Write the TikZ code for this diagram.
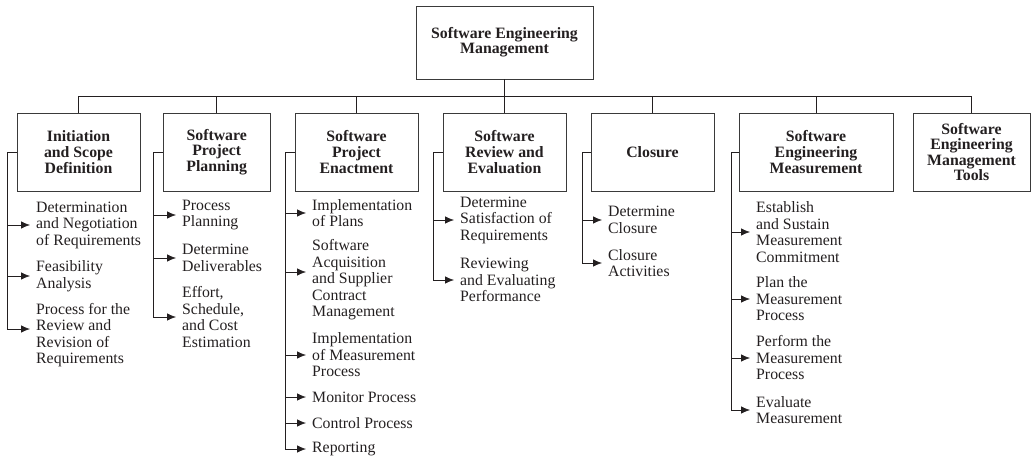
\documentclass[tikz,border=0pt]{standalone}
\usepackage{fontspec}
\setmainfont{Liberation Serif}
\usetikzlibrary{arrows.meta,calc}
\definecolor{ink}{HTML}{231F20}
\definecolor{boxline}{HTML}{3A3A3A}
\tikzset{
  rootbox/.style={draw=boxline, line width=0.9pt, text=ink, align=center, inner sep=0pt,
    font=\fontsize{15.8}{15.2}\selectfont\bfseries},
  catbox/.style={draw=boxline, line width=0.9pt, text=ink, align=center, inner sep=0pt,
    minimum height=78pt, font=\fontsize{15.8}{15.6}\selectfont\bfseries},
  item/.style={anchor=west, align=left, inner sep=0pt, text=ink,
    font=\fontsize{15.8}{16.5}\selectfont},
  conn/.style={draw=ink, line width=0.8pt},
  arr/.style={draw=ink, line width=0.8pt, -{Latex[length=9pt,width=7.5pt]}, shorten >=6pt},
}
\begin{document}
\begin{tikzpicture}[x=1pt,y=-1pt]
\useasboundingbox (0,0) rectangle (1031,460);
% root
\node[rootbox, minimum width=177pt, minimum height=73pt] (root) at (504.5,42.5)
  {Software Engineering\\Management};
% categories
\node[catbox, minimum width=123pt] (b1) at (78.5,152) {Initiation\\and Scope\\Definition};
\node[catbox, minimum width=107pt] (b2) at (216.7,152) {Software\\Project\\Planning};
\node[catbox, minimum width=123pt] (b3) at (356.5,152) {Software\\Project\\Enactment};
\node[catbox, minimum width=123pt] (b4) at (504.5,152) {Software\\Review and\\Evaluation};
\node[catbox, minimum width=123pt] (b5) at (652.5,152) {Closure};
\node[catbox, minimum width=154pt] (b6) at (816,152) {Software\\Engineering\\Measurement};
\node[catbox, minimum width=117pt] (b7) at (971.5,152) {Software\\Engineering\\Management\\Tools};
% bus
\draw[conn] (root.south) -- ++(0,17) coordinate (bus);
\foreach \b in {b1,b2,b3,b4,b5,b6,b7} { \draw[conn] (\b.north) |- (bus); }
% items box 1
\node[item] (i11) at (36,225) {Determination\\and Negotiation\\of Requirements};
\node[item] (i12) at (36,276) {Feasibility\\Analysis};
\node[item] (i13) at (36,335) {Process for the\\Review and\\Revision of\\Requirements};
% box 2
\node[item] (i21) at (182,215) {Process\\Planning};
\node[item] (i22) at (182,258) {Determine\\Deliverables};
\node[item] (i23) at (182,317) {Effort,\\Schedule,\\and Cost\\Estimation};
% box 3
\node[item] (i31) at (312,213) {Implementation\\of Plans};
\node[item] (i32) at (312,280) {Software\\Acquisition\\and Supplier\\Contract\\Management};
\node[item] (i33) at (312,355) {Implementation\\of Measurement\\Process};
\node[item] (i34) at (312,397) {Monitor Process};
\node[item] (i35) at (312,423) {Control Process};
\node[item] (i36) at (312,449) {Reporting};
% box 4
\node[item] (i41) at (460,220) {Determine\\Satisfaction of\\Requirements};
\node[item] (i42) at (460,280) {Reviewing\\and Evaluating\\Performance};
% box 5
\node[item] (i51) at (608,220) {Determine\\Closure};
\node[item] (i52) at (608,263) {Closure\\Activities};
% box 6
\node[item] (i61) at (756,232) {Establish\\and Sustain\\Measurement\\Commitment};
\node[item] (i62) at (756,299) {Plan the\\Measurement\\Process};
\node[item] (i63) at (756,358) {Perform the\\Measurement\\Process};
\node[item] (i64) at (756,410) {Evaluate\\Measurement};
% side connectors
\coordinate (c1) at ($(b1.west)+(-9,0)$);
\coordinate (c2) at ($(b2.west)+(-9,0)$);
\coordinate (c3) at ($(b3.west)+(-9,0)$);
\coordinate (c4) at ($(b4.west)+(-9,0)$);
\coordinate (c5) at ($(b5.west)+(-8,0)$);
\coordinate (c6) at ($(b6.west)+(-7,0)$);
\foreach \b/\c in {b1/c1,b2/c2,b3/c3,b4/c4,b5/c5,b6/c6} { \draw[conn] (\b.west) -- (\c); }
\draw[arr] (c1) |- (i11.west);
\draw[arr] (c1) |- (i12.west);
\draw[arr] (c1) |- ($(i13.west)+(0,-6)$);
\draw[arr] (c2) |- (i21.west);
\draw[arr] (c2) |- (i22.west);
\draw[arr] (c2) |- (i23.west);
\draw[arr] (c3) |- (i31.west);
\draw[arr] (c3) |- ($(i32.west)+(0,-8)$);
\draw[arr] (c3) |- (i33.west);
\draw[arr] (c3) |- (i34.west);
\draw[arr] (c3) |- (i35.west);
\draw[arr] (c3) |- (i36.west);
\draw[arr] (c4) |- (i41.west);
\draw[arr] (c4) |- (i42.west);
\draw[arr] (c5) |- (i51.west);
\draw[arr] (c5) |- (i52.west);
\draw[arr] (c6) |- (i61.west);
\draw[arr] (c6) |- (i62.west);
\draw[arr] (c6) |- (i63.west);
\draw[arr] (c6) |- (i64.west);
\end{tikzpicture}
\end{document}
